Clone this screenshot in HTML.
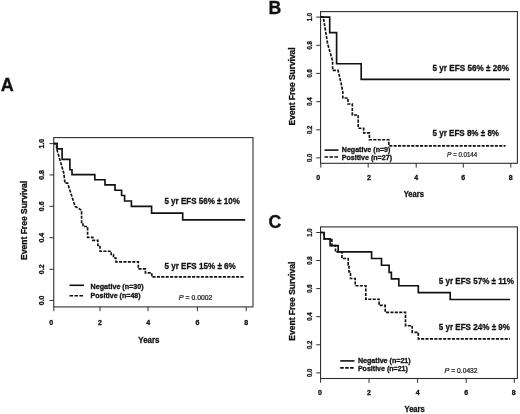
<!DOCTYPE html>
<html><head><meta charset="utf-8"><title>Event Free Survival</title>
<style>
html,body{margin:0;padding:0;background:#fff;}
svg{display:block;font-family:"Liberation Sans", sans-serif;will-change:transform;}
</style></head>
<body>
<svg width="520" height="414" viewBox="0 0 520 414">
<rect width="520" height="414" fill="#fff"/>
<g>
<rect x="53.75" y="137.6" width="199.25" height="169.3" fill="none" stroke="#303030" stroke-width="1.1"/>
<line x1="49.45" y1="143.6" x2="53.75" y2="143.6" stroke="#303030" stroke-width="1"/>
<text transform="translate(43.9,143.6) rotate(-90)" font-size="6.9" font-weight="bold" text-anchor="middle" fill="#111" stroke="#111" stroke-width="0.3" textLength="9.7" lengthAdjust="spacingAndGlyphs">1.0</text>
<line x1="49.45" y1="174.9" x2="53.75" y2="174.9" stroke="#303030" stroke-width="1"/>
<text transform="translate(43.9,174.9) rotate(-90)" font-size="6.9" font-weight="bold" text-anchor="middle" fill="#111" stroke="#111" stroke-width="0.3" textLength="9.7" lengthAdjust="spacingAndGlyphs">0.8</text>
<line x1="49.45" y1="206.3" x2="53.75" y2="206.3" stroke="#303030" stroke-width="1"/>
<text transform="translate(43.9,206.3) rotate(-90)" font-size="6.9" font-weight="bold" text-anchor="middle" fill="#111" stroke="#111" stroke-width="0.3" textLength="9.7" lengthAdjust="spacingAndGlyphs">0.6</text>
<line x1="49.45" y1="237.7" x2="53.75" y2="237.7" stroke="#303030" stroke-width="1"/>
<text transform="translate(43.9,237.7) rotate(-90)" font-size="6.9" font-weight="bold" text-anchor="middle" fill="#111" stroke="#111" stroke-width="0.3" textLength="9.7" lengthAdjust="spacingAndGlyphs">0.4</text>
<line x1="49.45" y1="269.3" x2="53.75" y2="269.3" stroke="#303030" stroke-width="1"/>
<text transform="translate(43.9,269.3) rotate(-90)" font-size="6.9" font-weight="bold" text-anchor="middle" fill="#111" stroke="#111" stroke-width="0.3" textLength="9.7" lengthAdjust="spacingAndGlyphs">0.2</text>
<line x1="49.45" y1="300.4" x2="53.75" y2="300.4" stroke="#303030" stroke-width="1"/>
<text transform="translate(43.9,300.4) rotate(-90)" font-size="6.9" font-weight="bold" text-anchor="middle" fill="#111" stroke="#111" stroke-width="0.3" textLength="9.7" lengthAdjust="spacingAndGlyphs">0.0</text>
<line x1="53.8" y1="306.9" x2="53.8" y2="311.2" stroke="#303030" stroke-width="1"/>
<text x="51.2" y="324.7" font-size="7" font-weight="bold" text-anchor="middle" fill="#111" stroke="#111" stroke-width="0.3">0</text>
<line x1="100" y1="306.9" x2="100" y2="311.2" stroke="#303030" stroke-width="1"/>
<text x="100" y="324.7" font-size="7" font-weight="bold" text-anchor="middle" fill="#111" stroke="#111" stroke-width="0.3">2</text>
<line x1="148" y1="306.9" x2="148" y2="311.2" stroke="#303030" stroke-width="1"/>
<text x="148.3" y="324.7" font-size="7" font-weight="bold" text-anchor="middle" fill="#111" stroke="#111" stroke-width="0.3">4</text>
<line x1="197.4" y1="306.9" x2="197.4" y2="311.2" stroke="#303030" stroke-width="1"/>
<text x="197.4" y="324.7" font-size="7" font-weight="bold" text-anchor="middle" fill="#111" stroke="#111" stroke-width="0.3">6</text>
<line x1="246.2" y1="306.9" x2="246.2" y2="311.2" stroke="#303030" stroke-width="1"/>
<text x="246.2" y="324.7" font-size="7" font-weight="bold" text-anchor="middle" fill="#111" stroke="#111" stroke-width="0.3">8</text>
<text transform="translate(26.9,220.4) rotate(-90)" font-size="8.3" font-weight="bold" text-anchor="middle" fill="#111" stroke="#111" stroke-width="0.3" textLength="79" lengthAdjust="spacingAndGlyphs">Event Free Survival</text>
<text x="138.3" y="342.9" font-size="8.6" font-weight="bold" text-anchor="start" fill="#111" stroke="#111" stroke-width="0.3" textLength="21.2" lengthAdjust="spacingAndGlyphs">Years</text>
<path d="M53.8,143.6 H57.1 V148.8 H62.1 V159.3 H69.9 V169.7 H72 V174.6 H94.8 V179.7 H105 V184.9 H115 V190.2 H121.6 V195.5 H124.6 V201 H131.4 V206.4 H151.6 V213.1 H182.7 V219.8 H245.2" fill="none" stroke="#111" stroke-width="1.65" stroke-linejoin="miter"/>
<path d="M53.8,143.6 H56.6 V148.5 L59.8,159.5 L63.8,173 L64.9,183.1 H67.6 L75.1,206.4 L78,208 L81.6,210.3 V222.5 H83 V226.5 H87.6 V237.3 H92.8 V240.4 H97.8 V245.5 H100 V251.2 H111.2 V254.5 H113.5 V258 H116 V261.9 H138.3 V268.9 H145.4 V272.9 H151.8 V276.9 H243.9" fill="none" stroke="#111" stroke-width="1.65" stroke-dasharray="3.1 1.3"/>
<line x1="69.5" y1="285.3" x2="84.0" y2="285.3" stroke="#111" stroke-width="1.6"/>
<line x1="69.5" y1="295.7" x2="84.0" y2="295.7" stroke="#111" stroke-width="1.6" stroke-dasharray="3.6 1.35"/>
<text x="90.6" y="288.8" font-size="7" font-weight="bold" text-anchor="start" fill="#111" stroke="#111" stroke-width="0.3" textLength="53" lengthAdjust="spacingAndGlyphs">Negative (n=30)</text>
<text x="90.6" y="298.2" font-size="7" font-weight="bold" text-anchor="start" fill="#111" stroke="#111" stroke-width="0.3" textLength="50" lengthAdjust="spacingAndGlyphs">Positive (n=48)</text>
<text x="164.4" y="204.3" font-size="9.2" font-weight="bold" text-anchor="start" fill="#111" stroke="#111" stroke-width="0.3" textLength="75.4" lengthAdjust="spacingAndGlyphs">5 yr EFS 56% ± 10%</text>
<text x="164.4" y="269" font-size="9.2" font-weight="bold" text-anchor="start" fill="#111" stroke="#111" stroke-width="0.3" textLength="71.4" lengthAdjust="spacingAndGlyphs">5 yr EFS 15% ± 6%</text>
<text x="178.8" y="300" font-size="6.3" fill="#1a1a1a" stroke="#1a1a1a" stroke-width="0.22" textLength="33.5" lengthAdjust="spacingAndGlyphs"><tspan font-style="italic" font-size="6.8">P</tspan> = 0.0002</text>
<text x="0.7" y="90.6" font-size="18" font-weight="bold" text-anchor="start" fill="#111" stroke="#111" stroke-width="0.3">A</text>
</g>
<g>
<rect x="320.55" y="11.6" width="196.85" height="151.7" fill="none" stroke="#303030" stroke-width="1.1"/>
<line x1="316.25" y1="17.1" x2="320.55" y2="17.1" stroke="#303030" stroke-width="1"/>
<text transform="translate(311.6,17.1) rotate(-90)" font-size="6.3" font-weight="bold" text-anchor="middle" fill="#111" stroke="#111" stroke-width="0.3" textLength="8.3" lengthAdjust="spacingAndGlyphs">1.0</text>
<line x1="316.25" y1="45.3" x2="320.55" y2="45.3" stroke="#303030" stroke-width="1"/>
<text transform="translate(311.6,45.3) rotate(-90)" font-size="6.3" font-weight="bold" text-anchor="middle" fill="#111" stroke="#111" stroke-width="0.3" textLength="8.3" lengthAdjust="spacingAndGlyphs">0.8</text>
<line x1="316.25" y1="73.4" x2="320.55" y2="73.4" stroke="#303030" stroke-width="1"/>
<text transform="translate(311.6,73.4) rotate(-90)" font-size="6.3" font-weight="bold" text-anchor="middle" fill="#111" stroke="#111" stroke-width="0.3" textLength="8.3" lengthAdjust="spacingAndGlyphs">0.6</text>
<line x1="316.25" y1="101.7" x2="320.55" y2="101.7" stroke="#303030" stroke-width="1"/>
<text transform="translate(311.6,101.7) rotate(-90)" font-size="6.3" font-weight="bold" text-anchor="middle" fill="#111" stroke="#111" stroke-width="0.3" textLength="8.3" lengthAdjust="spacingAndGlyphs">0.4</text>
<line x1="316.25" y1="129.8" x2="320.55" y2="129.8" stroke="#303030" stroke-width="1"/>
<text transform="translate(311.6,129.8) rotate(-90)" font-size="6.3" font-weight="bold" text-anchor="middle" fill="#111" stroke="#111" stroke-width="0.3" textLength="8.3" lengthAdjust="spacingAndGlyphs">0.2</text>
<line x1="316.25" y1="157.9" x2="320.55" y2="157.9" stroke="#303030" stroke-width="1"/>
<text transform="translate(311.6,157.9) rotate(-90)" font-size="6.3" font-weight="bold" text-anchor="middle" fill="#111" stroke="#111" stroke-width="0.3" textLength="8.3" lengthAdjust="spacingAndGlyphs">0.0</text>
<line x1="320.8" y1="163.3" x2="320.8" y2="167.6" stroke="#303030" stroke-width="1"/>
<text x="318.3" y="180" font-size="7" font-weight="bold" text-anchor="middle" fill="#111" stroke="#111" stroke-width="0.3">0</text>
<line x1="368.2" y1="163.3" x2="368.2" y2="167.6" stroke="#303030" stroke-width="1"/>
<text x="369" y="180" font-size="7" font-weight="bold" text-anchor="middle" fill="#111" stroke="#111" stroke-width="0.3">2</text>
<line x1="416.2" y1="163.3" x2="416.2" y2="167.6" stroke="#303030" stroke-width="1"/>
<text x="416.2" y="180" font-size="7" font-weight="bold" text-anchor="middle" fill="#111" stroke="#111" stroke-width="0.3">4</text>
<line x1="463.3" y1="163.3" x2="463.3" y2="167.6" stroke="#303030" stroke-width="1"/>
<text x="463.3" y="180" font-size="7" font-weight="bold" text-anchor="middle" fill="#111" stroke="#111" stroke-width="0.3">6</text>
<line x1="510.8" y1="163.3" x2="510.8" y2="167.6" stroke="#303030" stroke-width="1"/>
<text x="510.8" y="180" font-size="7" font-weight="bold" text-anchor="middle" fill="#111" stroke="#111" stroke-width="0.3">8</text>
<text transform="translate(294.6,86.4) rotate(-90)" font-size="8.3" font-weight="bold" text-anchor="middle" fill="#111" stroke="#111" stroke-width="0.3" textLength="78" lengthAdjust="spacingAndGlyphs">Event Free Survival</text>
<text x="403.7" y="197.3" font-size="8.2" font-weight="bold" text-anchor="start" fill="#111" stroke="#111" stroke-width="0.3" textLength="20.2" lengthAdjust="spacingAndGlyphs">Years</text>
<path d="M320.7,17.1 H329.7 V32.6 H336.6 V63.7 H361.2 V79.3 H510" fill="none" stroke="#111" stroke-width="1.65" stroke-linejoin="miter"/>
<path d="M320.6,17.1 H323.3 L327.6,43.7 L331,55.5 L332.6,61 V70.4 H338 L341,82.7 L342.8,92 V98 H348 V104 H352.3 V115 H358.2 V128.2 H363.7 V132.9 H369.4 V139.7 H388.8 V145.8 H505.5" fill="none" stroke="#111" stroke-width="1.65" stroke-dasharray="3.1 1.3"/>
<line x1="324.5" y1="150.1" x2="338.4" y2="150.1" stroke="#111" stroke-width="1.6"/>
<line x1="324.5" y1="157.0" x2="338.4" y2="157.0" stroke="#111" stroke-width="1.6" stroke-dasharray="3.6 1.35"/>
<text x="341.8" y="152.1" font-size="7" font-weight="bold" text-anchor="start" fill="#111" stroke="#111" stroke-width="0.3" textLength="48.6" lengthAdjust="spacingAndGlyphs">Negative (n=9)</text>
<text x="341.8" y="159.8" font-size="7" font-weight="bold" text-anchor="start" fill="#111" stroke="#111" stroke-width="0.3" textLength="50.2" lengthAdjust="spacingAndGlyphs">Positive (n=27)</text>
<text x="432.5" y="70.6" font-size="9.2" font-weight="bold" text-anchor="start" fill="#111" stroke="#111" stroke-width="0.3" textLength="76.5" lengthAdjust="spacingAndGlyphs">5 yr EFS 56% ± 26%</text>
<text x="432.5" y="135.5" font-size="9.2" font-weight="bold" text-anchor="start" fill="#111" stroke="#111" stroke-width="0.3" textLength="66.5" lengthAdjust="spacingAndGlyphs">5 yr EFS 8% ± 8%</text>
<text x="447" y="157" font-size="6.4" fill="#1a1a1a" stroke="#1a1a1a" stroke-width="0.22" textLength="30.2" lengthAdjust="spacingAndGlyphs"><tspan font-style="italic" font-size="6.9">P</tspan> = 0.0144</text>
<text x="268.5" y="13.7" font-size="17.7" font-weight="bold" text-anchor="start" fill="#111" stroke="#111" stroke-width="0.3">B</text>
</g>
<g>
<rect x="320.55" y="226.9" width="196.85" height="151.6" fill="none" stroke="#303030" stroke-width="1.1"/>
<line x1="316.25" y1="232.5" x2="320.55" y2="232.5" stroke="#303030" stroke-width="1"/>
<text transform="translate(311.6,232.5) rotate(-90)" font-size="6.3" font-weight="bold" text-anchor="middle" fill="#111" stroke="#111" stroke-width="0.3" textLength="8.3" lengthAdjust="spacingAndGlyphs">1.0</text>
<line x1="316.25" y1="260.5" x2="320.55" y2="260.5" stroke="#303030" stroke-width="1"/>
<text transform="translate(311.6,260.5) rotate(-90)" font-size="6.3" font-weight="bold" text-anchor="middle" fill="#111" stroke="#111" stroke-width="0.3" textLength="8.3" lengthAdjust="spacingAndGlyphs">0.8</text>
<line x1="316.25" y1="288.6" x2="320.55" y2="288.6" stroke="#303030" stroke-width="1"/>
<text transform="translate(311.6,288.6) rotate(-90)" font-size="6.3" font-weight="bold" text-anchor="middle" fill="#111" stroke="#111" stroke-width="0.3" textLength="8.3" lengthAdjust="spacingAndGlyphs">0.6</text>
<line x1="316.25" y1="316.7" x2="320.55" y2="316.7" stroke="#303030" stroke-width="1"/>
<text transform="translate(311.6,316.7) rotate(-90)" font-size="6.3" font-weight="bold" text-anchor="middle" fill="#111" stroke="#111" stroke-width="0.3" textLength="8.3" lengthAdjust="spacingAndGlyphs">0.4</text>
<line x1="316.25" y1="344.8" x2="320.55" y2="344.8" stroke="#303030" stroke-width="1"/>
<text transform="translate(311.6,344.8) rotate(-90)" font-size="6.3" font-weight="bold" text-anchor="middle" fill="#111" stroke="#111" stroke-width="0.3" textLength="8.3" lengthAdjust="spacingAndGlyphs">0.2</text>
<line x1="316.25" y1="372.9" x2="320.55" y2="372.9" stroke="#303030" stroke-width="1"/>
<text transform="translate(311.6,372.9) rotate(-90)" font-size="6.3" font-weight="bold" text-anchor="middle" fill="#111" stroke="#111" stroke-width="0.3" textLength="8.3" lengthAdjust="spacingAndGlyphs">0.0</text>
<line x1="320.6" y1="378.5" x2="320.6" y2="382.8" stroke="#303030" stroke-width="1"/>
<text x="320" y="394.5" font-size="7" font-weight="bold" text-anchor="middle" fill="#111" stroke="#111" stroke-width="0.3">0</text>
<line x1="369" y1="378.5" x2="369" y2="382.8" stroke="#303030" stroke-width="1"/>
<text x="369" y="394.5" font-size="7" font-weight="bold" text-anchor="middle" fill="#111" stroke="#111" stroke-width="0.3">2</text>
<line x1="417.6" y1="378.5" x2="417.6" y2="382.8" stroke="#303030" stroke-width="1"/>
<text x="417.6" y="394.5" font-size="7" font-weight="bold" text-anchor="middle" fill="#111" stroke="#111" stroke-width="0.3">4</text>
<line x1="466.2" y1="378.5" x2="466.2" y2="382.8" stroke="#303030" stroke-width="1"/>
<text x="466.2" y="394.5" font-size="7" font-weight="bold" text-anchor="middle" fill="#111" stroke="#111" stroke-width="0.3">6</text>
<line x1="514.3" y1="378.5" x2="514.3" y2="382.8" stroke="#303030" stroke-width="1"/>
<text x="513.8" y="394.5" font-size="7" font-weight="bold" text-anchor="middle" fill="#111" stroke="#111" stroke-width="0.3">8</text>
<text transform="translate(294.6,301.2) rotate(-90)" font-size="8.3" font-weight="bold" text-anchor="middle" fill="#111" stroke="#111" stroke-width="0.3" textLength="79" lengthAdjust="spacingAndGlyphs">Event Free Survival</text>
<text x="404.5" y="411.6" font-size="8.2" font-weight="bold" text-anchor="start" fill="#111" stroke="#111" stroke-width="0.3" textLength="20.2" lengthAdjust="spacingAndGlyphs">Years</text>
<path d="M320.6,232.5 H324.2 V238.8 H330.1 V245.6 H338.2 V251.9 H371.6 V258.5 H381.5 V265.2 H389.1 V272.3 H391.4 V278.9 H398.8 V285.7 H418.3 V292.6 H450.2 V299.5 H510" fill="none" stroke="#111" stroke-width="1.65" stroke-linejoin="miter"/>
<path d="M320.6,232.5 H324.2 V238.8 H331.9 V245.6 H335.5 V251.9 H342 V258.5 H348.2 V265 H349 V271.8 H350.5 V278.5 H355.2 V285.7 H365.8 V299.2 H379.1 V305.4 H385.2 V312.3 H405.5 V325.7 H412.2 V332.3 H418.3 V338.8 H510" fill="none" stroke="#111" stroke-width="1.65" stroke-dasharray="3.1 1.3"/>
<line x1="340.2" y1="360.9" x2="354.5" y2="360.9" stroke="#111" stroke-width="1.6"/>
<line x1="340.2" y1="367.9" x2="354.5" y2="367.9" stroke="#111" stroke-width="1.6" stroke-dasharray="3.6 1.35"/>
<text x="357.9" y="363.3" font-size="7" font-weight="bold" text-anchor="start" fill="#111" stroke="#111" stroke-width="0.3" textLength="52.8" lengthAdjust="spacingAndGlyphs">Negative (n=21)</text>
<text x="357.9" y="370.8" font-size="7" font-weight="bold" text-anchor="start" fill="#111" stroke="#111" stroke-width="0.3" textLength="50" lengthAdjust="spacingAndGlyphs">Positive (n=21)</text>
<text x="438.7" y="284" font-size="9.2" font-weight="bold" text-anchor="start" fill="#111" stroke="#111" stroke-width="0.3" textLength="75.3" lengthAdjust="spacingAndGlyphs">5 yr EFS 57% ± 11%</text>
<text x="438.7" y="329.8" font-size="9.2" font-weight="bold" text-anchor="start" fill="#111" stroke="#111" stroke-width="0.3" textLength="71.3" lengthAdjust="spacingAndGlyphs">5 yr EFS 24% ± 9%</text>
<text x="444.6" y="373.2" font-size="6.4" fill="#1a1a1a" stroke="#1a1a1a" stroke-width="0.22" textLength="33" lengthAdjust="spacingAndGlyphs"><tspan font-style="italic" font-size="6.9">P</tspan> = 0.0432</text>
<text x="268.6" y="227.7" font-size="17.7" font-weight="bold" text-anchor="start" fill="#111" stroke="#111" stroke-width="0.3">C</text>
</g>
</svg>
</body></html>
